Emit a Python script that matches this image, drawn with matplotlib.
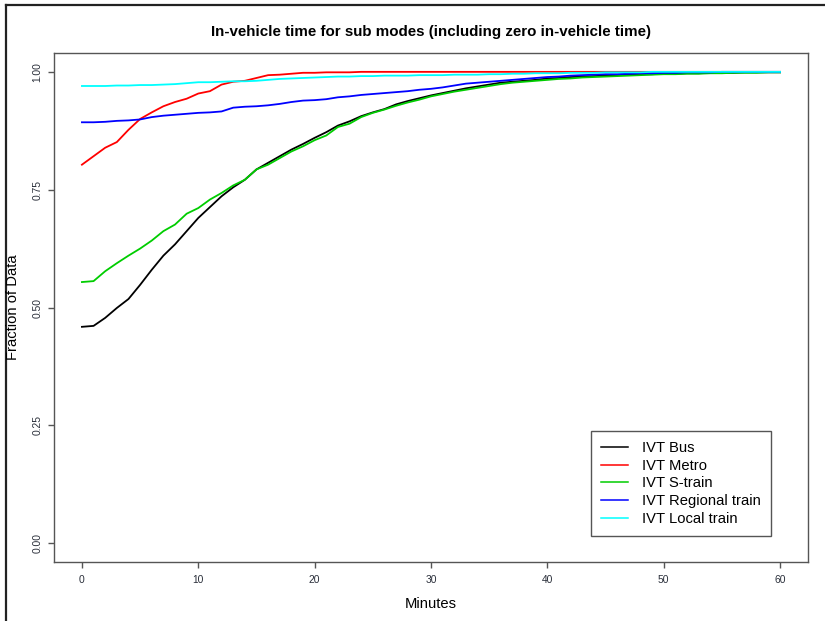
import matplotlib
matplotlib.use("Agg")
import matplotlib.pyplot as plt
from matplotlib.lines import Line2D

plt.rcParams['font.family'] = ['Liberation Sans', 'DejaVu Sans']

minutes = list(range(0, 61))

ivt_bus = [0.459, 0.461, 0.478, 0.499, 0.518, 0.548, 0.580, 0.610, 0.634, 0.662,
           0.690, 0.713, 0.736, 0.755, 0.771, 0.793, 0.807, 0.821, 0.835, 0.847,
           0.860, 0.872, 0.886, 0.895, 0.906, 0.914, 0.921, 0.931, 0.938, 0.944,
           0.950, 0.955, 0.960, 0.965, 0.969, 0.973, 0.977, 0.979, 0.981, 0.983,
           0.986, 0.987, 0.989, 0.990, 0.991, 0.992, 0.993, 0.994, 0.995, 0.995,
           0.996, 0.996, 0.997, 0.997, 0.998, 0.998, 0.998, 0.999, 0.999, 0.999,
           0.999]
ivt_metro = [0.803, 0.821, 0.839, 0.851, 0.877, 0.900, 0.914, 0.927, 0.936, 0.943,
             0.954, 0.959, 0.973, 0.979, 0.981, 0.987, 0.993, 0.994, 0.996, 0.998,
             0.998, 0.999, 0.999, 0.999, 1.000, 1.000, 1.000, 1.000, 1.000, 1.000,
             1.000, 1.000, 1.000, 1.000, 1.000, 1.000, 1.000, 1.000, 1.000, 1.000,
             1.000, 1.000, 1.000, 1.000, 1.000, 1.000, 1.000, 1.000, 1.000, 1.000,
             1.000, 1.000, 1.000, 1.000, 1.000, 1.000, 1.000, 1.000, 1.000, 1.000,
             1.000]
ivt_strain = [0.554, 0.556, 0.577, 0.594, 0.610, 0.625, 0.642, 0.662, 0.676, 0.699,
              0.711, 0.729, 0.743, 0.759, 0.771, 0.793, 0.803, 0.817, 0.831, 0.842,
              0.855, 0.865, 0.883, 0.890, 0.904, 0.913, 0.920, 0.928, 0.935, 0.941,
              0.948, 0.953, 0.958, 0.962, 0.966, 0.970, 0.974, 0.977, 0.979, 0.981,
              0.983, 0.985, 0.986, 0.988, 0.989, 0.990, 0.991, 0.992, 0.993, 0.994,
              0.995, 0.995, 0.996, 0.996, 0.997, 0.997, 0.998, 0.998, 0.998, 0.999,
              0.999]
ivt_regional = [0.893, 0.893, 0.894, 0.896, 0.897, 0.899, 0.904, 0.907, 0.909, 0.911,
                0.913, 0.914, 0.916, 0.924, 0.926, 0.927, 0.929, 0.932, 0.936, 0.939,
                0.940, 0.942, 0.946, 0.948, 0.951, 0.953, 0.955, 0.957, 0.959, 0.962,
                0.964, 0.967, 0.971, 0.975, 0.977, 0.979, 0.981, 0.983, 0.985, 0.987,
                0.989, 0.990, 0.992, 0.993, 0.994, 0.995, 0.995, 0.996, 0.997, 0.997,
                0.998, 0.998, 0.999, 0.999, 0.999, 1.000, 1.000, 1.000, 1.000, 1.000,
                1.000]
ivt_local = [0.970, 0.970, 0.970, 0.971, 0.971, 0.972, 0.972, 0.973, 0.974, 0.976,
             0.978, 0.978, 0.979, 0.980, 0.980, 0.981, 0.983, 0.985, 0.986, 0.987,
             0.988, 0.989, 0.990, 0.990, 0.991, 0.991, 0.992, 0.992, 0.992, 0.993,
             0.993, 0.993, 0.994, 0.994, 0.994, 0.995, 0.995, 0.996, 0.996, 0.997,
             0.997, 0.997, 0.998, 0.998, 0.998, 0.999, 0.999, 0.999, 0.999, 1.000,
             1.000, 1.000, 1.000, 1.000, 1.000, 1.000, 1.000, 1.000, 1.000, 1.000,
             1.000]

series_labels = ["IVT Bus", "IVT Metro", "IVT S-train", "IVT Regional train", "IVT Local train"]
series_colors = ["#000000", "#FF0000", "#00CD00", "#0000FF", "#00FFFF"]
x_ticks = [0, 10, 20, 30, 40, 50, 60]
y_ticks = [0.00, 0.25, 0.50, 0.75, 1.00]

W, H = 825, 621
fig = plt.figure(figsize=(W / 100, H / 100), dpi=100)
fig.patch.set_facecolor("white")

ax_l, ax_r, ax_t, ax_b = 54, 808, 53, 562
ax = fig.add_axes([ax_l / W, 1 - ax_b / H, (ax_r - ax_l) / W, (ax_b - ax_t) / H])

all_series = [ivt_bus, ivt_metro, ivt_strain, ivt_regional, ivt_local]
for vals, lab, col in zip(all_series, series_labels, series_colors):
    ax.plot(minutes, vals, color=col, lw=1.3, label=lab, solid_joinstyle="round")

ax.set_xlim(-2.4, 62.4)
ax.set_ylim(-0.04, 1.04)
ax.set_xticks(x_ticks)
ax.set_xticklabels([str(v) for v in x_ticks])
ax.set_yticks(y_ticks)
ax.set_yticklabels([f"{v:.2f}" for v in y_ticks], rotation=90, va="center")

frame_col = "#555555"
for sp in ax.spines.values():
    sp.set_color(frame_col)
    sp.set_linewidth(1.0)
ax.tick_params(axis="both", length=4, width=1.0, color=frame_col,
               labelsize=7.4, labelcolor="#2a2f3a")
ax.tick_params(axis="x", pad=5.5)
ax.tick_params(axis="y", pad=4.5)

fig.text(431 / W, 1 - 36 / H,
         "In-vehicle time for sub modes (including zero in-vehicle time)",
         ha="center", va="baseline", fontsize=10.9, fontweight="bold")
fig.text(431 / W, 1 - 608 / H, "Minutes", ha="center", va="baseline", fontsize=10.6)
fig.text(13 / W, 1 - 307.5 / H, "Fraction of Data", rotation=90,
         ha="center", va="center", fontsize=10.6)

leg = ax.legend(loc="upper left", bbox_to_anchor=(590.5 / W, 1 - 430.5 / H),
                bbox_transform=fig.transFigure, borderaxespad=0,
                fancybox=False, framealpha=1, edgecolor=frame_col,
                fontsize=10.6, handlelength=1.85, handletextpad=0.9,
                borderpad=0.72, labelspacing=0.25)
leg.get_frame().set_linewidth(1.0)
for h in leg.get_lines():
    h.set_linewidth(1.1)

# outer border on the left and top edges
fig.add_artist(Line2D([6 / W, 6 / W], [0, 1 - 4.5 / H], transform=fig.transFigure,
                      color="#222222", lw=1.6))
fig.add_artist(Line2D([6 / W, 1], [1 - 4.5 / H, 1 - 4.5 / H], transform=fig.transFigure,
                      color="#222222", lw=1.6))

fig.savefig("out.png", dpi=100)
